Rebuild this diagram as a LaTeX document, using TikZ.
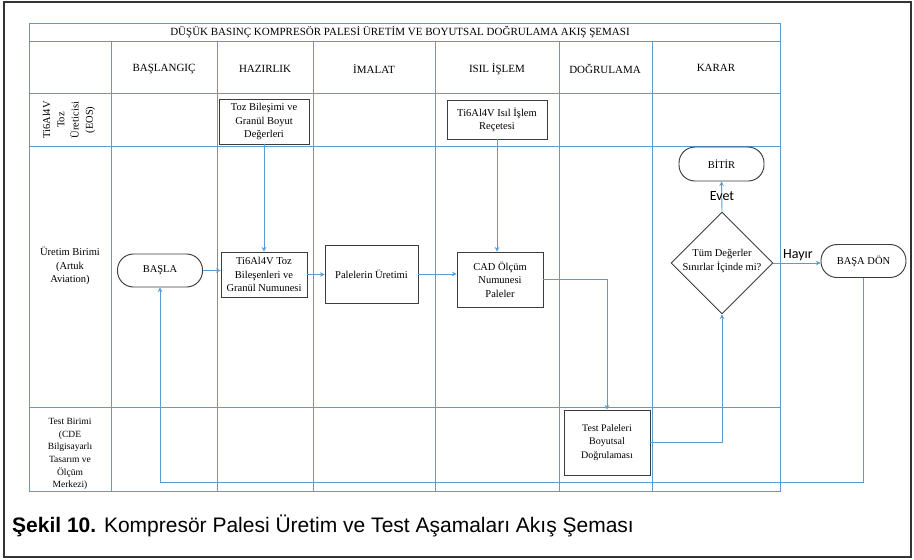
\documentclass[tikz,border=0pt]{standalone}
\usepackage{fontspec}
\setmainfont{Liberation Serif}
\newfontfamily\capfont{Liberation Sans}
\newfontfamily\calfont{Carlito}
\usetikzlibrary{shapes.geometric,arrows.meta}
\definecolor{lanec}{RGB}{91,155,213}
\definecolor{boxc}{RGB}{60,60,60}
\begin{document}
\begin{tikzpicture}[x=1pt,y=-1pt,
  gridline/.style={draw=lanec,line width=1pt},
  procbox/.style={draw=boxc,line width=0.95pt,rectangle,inner sep=0pt,align=center,font=\fontsize{10.5}{13.3}\selectfont},
  termbox/.style={draw=boxc,line width=0.95pt,rectangle,rounded corners=16pt,inner sep=0pt,align=center,font=\fontsize{10.5}{13.3}\selectfont},
  hdr/.style={font=\fontsize{11}{13}\selectfont,inner sep=0pt},
  lanelbl/.style={font=\fontsize{10.5}{13}\selectfont,align=center,inner sep=0pt},
  conn/.style={draw=lanec,line width=0.9pt,-{Stealth[length=4.5pt,width=4.5pt]}},
  yesno/.style={font=\calfont\fontsize{14}{16}\selectfont,inner sep=0pt}
]
\useasboundingbox (0,0) rectangle (914,560);
\draw[line width=1.4pt,draw=black!80] (4,2) rectangle (911,557);

% grid
\draw[gridline] (29,23) rectangle (780,491);
\foreach \yy in {41,93,146,407} \draw[gridline] (29,\yy) -- (780,\yy);
\foreach \xx in {111,217,313,435,559,652} \draw[gridline] (\xx,41) -- (\xx,491);

% title and headers
\node[hdr] (title) at (400,32) {DÜŞÜK BASINÇ KOMPRESÖR PALESİ ÜRETİM VE BOYUTSAL DOĞRULAMA AKIŞ ŞEMASI};
\node[hdr] (h1) at (164,69) {BAŞLANGIÇ};
\node[hdr] (h2) at (265,69) {HAZIRLIK};
\node[hdr] (h3) at (374,69) {İMALAT};
\node[hdr] (h4) at (497,69) {ISIL İŞLEM};
\node[hdr] (h5) at (605,69) {DOĞRULAMA};
\node[hdr] (h6) at (716,68) {KARAR};

% lane labels
\node[lanelbl,rotate=90,font=\fontsize{10.5}{14.2}\selectfont] (l1) at (69,120) {Ti6Al4V\\Toz\\Üreticisi\\(EOS)};
\node[lanelbl,font=\fontsize{10.5}{13.5}\selectfont] (l2) at (70,266) {Üretim Birimi\\(Artuk\\Aviation)};
\node[lanelbl,font=\fontsize{9.5}{12.6}\selectfont] (l3) at (70,454) {Test Birimi\\(CDE\\Bilgisayarlı\\Tasarım ve\\Ölçüm\\Merkezi)};

% nodes
\node[procbox,minimum width=90pt,minimum height=45pt] (tozbil) at (264,121.5) {Toz Bileşimi ve\\Granül Boyut\\Değerleri};
\node[procbox,minimum width=100pt,minimum height=39pt] (recete) at (497,119.5) {Ti6Al4V Isıl İşlem\\Reçetesi};
\node[termbox,minimum width=85pt,minimum height=33pt] (basla) at (160,270.5) {BAŞLA};
\node[procbox,minimum width=86pt,minimum height=45pt] (tozbn) at (264,274.5) {Ti6Al4V Toz\\Bileşenleri ve\\Granül Numunesi};
\node[procbox,minimum width=93pt,minimum height=58pt] (pal) at (371.5,274) {Palelerin Üretimi};
\node[procbox,minimum width=86pt,minimum height=55pt] (cad) at (500,279.5) {CAD Ölçüm\\Numunesi\\Paleler};
\node[termbox,minimum width=85pt,minimum height=34pt] (bitir) at (721.5,164) {BİTİR};
\node[draw=boxc,line width=0.95pt,diamond,aspect=1,minimum width=102pt,minimum height=102pt,inner sep=0pt] (dq) at (722,263) {};
\node[procbox,draw=none,fill=none] (dqt) at (722,261) {Tüm Değerler\\Sınırlar İçinde mi?};
\node[termbox,minimum width=85pt,minimum height=33pt] (basadon) at (863.5,261) {BAŞA DÖN};
\node[procbox,minimum width=86pt,minimum height=65pt,font=\fontsize{10}{13.3}\selectfont] (test) at (607,442.5) {Test Paleleri\\Boyutsal\\Doğrulaması};

\coordinate (ret) at (0,482);

% connectors
\draw[conn] (tozbil.south) -- (tozbn.north);
\draw[conn] (recete.south) -- (recete.south |- cad.north);
\draw[conn] (basla.east) -- (basla.east -| tozbn.west);
\draw[conn] (tozbn.east) -- (tozbn.east -| pal.west);
\draw[conn] (pal.east) -- (pal.east -| cad.west);
\draw[conn] (cad.east) -| (test.north);
\draw[conn] (test.east) -| (dq.south);
\draw[conn] (dq.north) -- (bitir.south);
\draw[conn] (dq.east) -- (dq.east -| basadon.west);
\draw[conn] (basadon.south) -- (basadon.south |- ret) -| (basla.south);

\node[yesno] (evet) at (722,196) {Evet};
\node[yesno] (hayir) at (798,255) {Hayır};

% caption
\node[anchor=west,inner sep=0pt,font=\capfont\fontsize{21}{24}\selectfont] (cap) at (12,526) {\textbf{Şekil 10.} Kompresör Palesi Üretim ve Test Aşamaları Akış Şeması};
\end{tikzpicture}
\end{document}
